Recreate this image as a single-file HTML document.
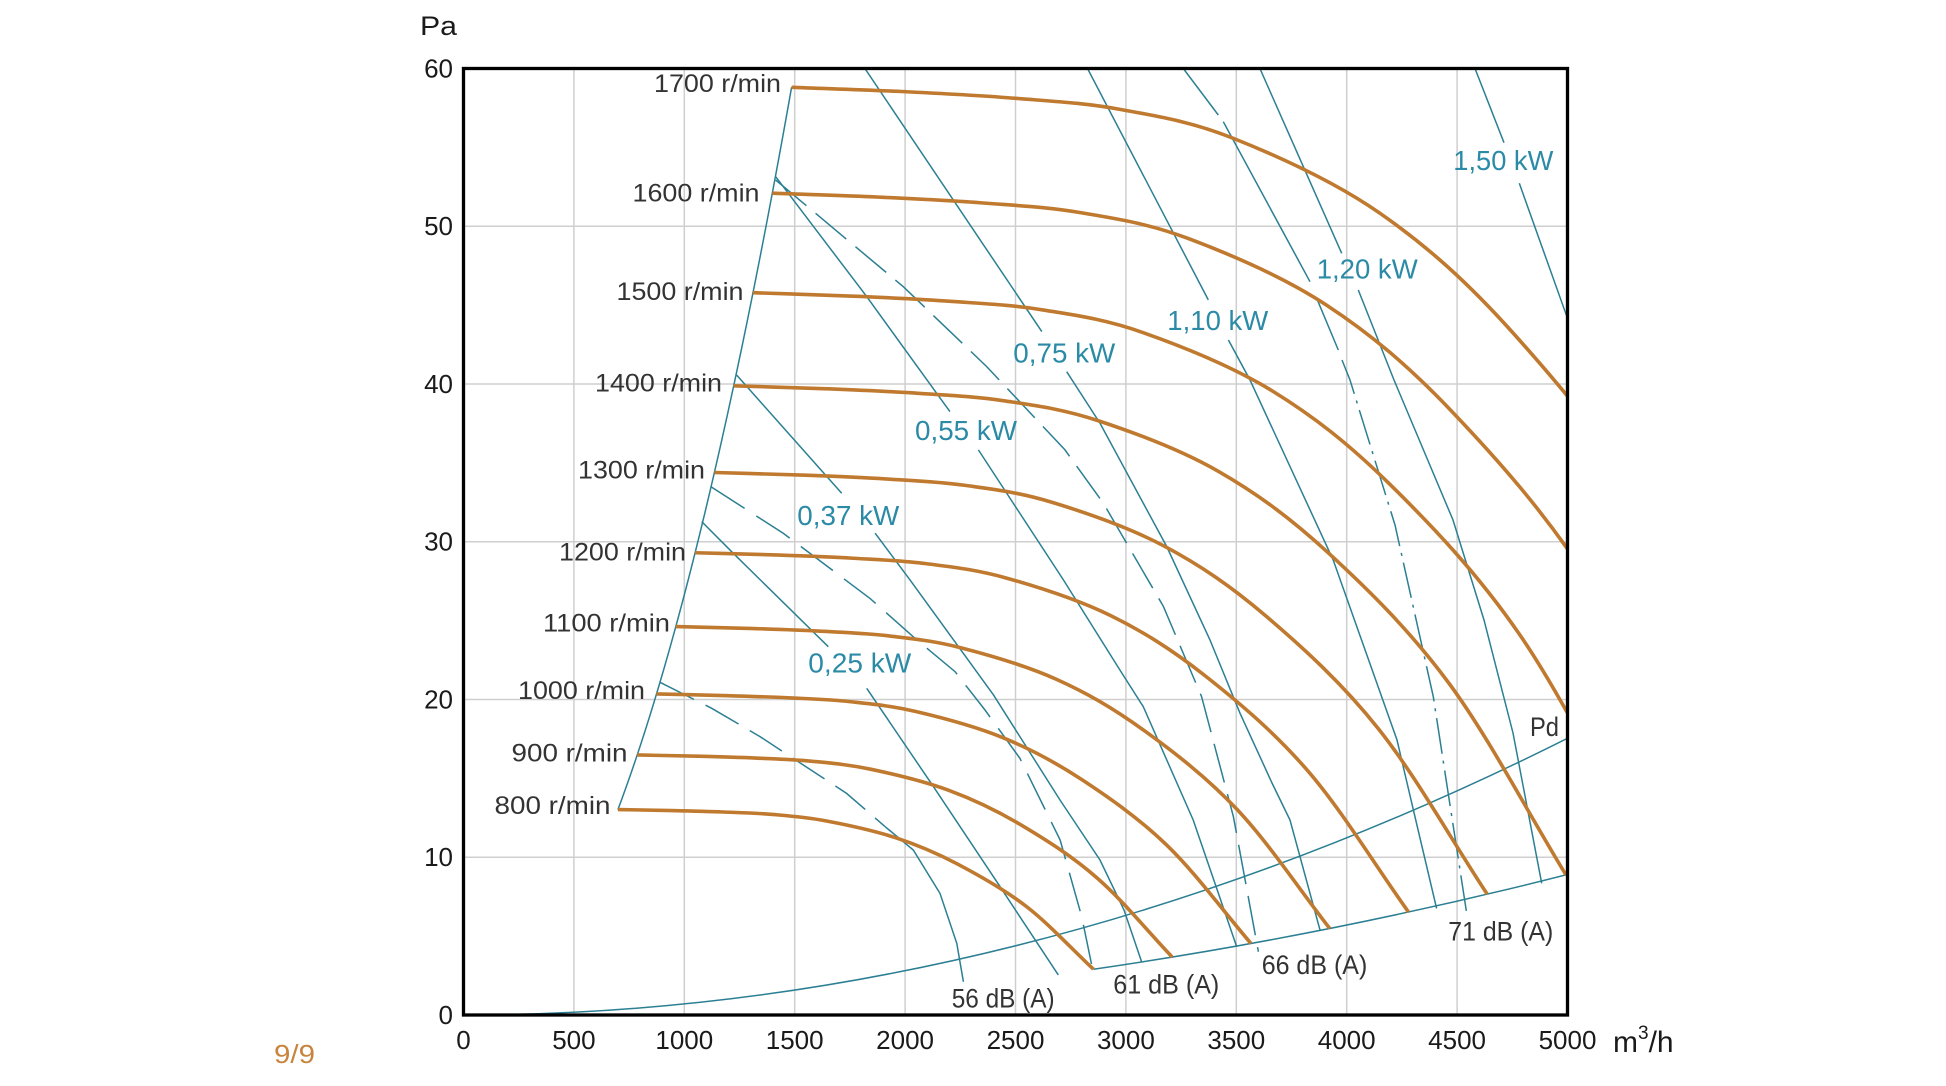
<!DOCTYPE html>
<html><head><meta charset="utf-8"><style>
html,body{margin:0;padding:0;background:#fff;}
svg{display:block;}
text{font-family:"Liberation Sans",Arial,sans-serif;}
</style></head><body>
<svg width="1946" height="1086" viewBox="0 0 1946 1086" xmlns="http://www.w3.org/2000/svg">
<rect width="1946" height="1086" fill="#fff"/>
<defs>
<clipPath id="c"><rect x="463.5" y="68.5" width="1104" height="946.5"/></clipPath>
</defs>
<!-- grid -->
<g stroke="#cfcfcf" stroke-width="1.5">
<line x1="573.9" y1="68.5" x2="573.9" y2="1015"/>
<line x1="684.3" y1="68.5" x2="684.3" y2="1015"/>
<line x1="794.7" y1="68.5" x2="794.7" y2="1015"/>
<line x1="905.1" y1="68.5" x2="905.1" y2="1015"/>
<line x1="1015.5" y1="68.5" x2="1015.5" y2="1015"/>
<line x1="1125.9" y1="68.5" x2="1125.9" y2="1015"/>
<line x1="1236.3" y1="68.5" x2="1236.3" y2="1015"/>
<line x1="1346.7" y1="68.5" x2="1346.7" y2="1015"/>
<line x1="1457.1" y1="68.5" x2="1457.1" y2="1015"/>
<line x1="463.5" y1="226.25" x2="1567.5" y2="226.25"/>
<line x1="463.5" y1="384" x2="1567.5" y2="384"/>
<line x1="463.5" y1="541.75" x2="1567.5" y2="541.75"/>
<line x1="463.5" y1="699.5" x2="1567.5" y2="699.5"/>
<line x1="463.5" y1="857.25" x2="1567.5" y2="857.25"/>
</g>
<g clip-path="url(#c)">
<g fill="none" stroke="#2b7f93" stroke-width="1.5">
<!-- boundary, end line, Pd -->
<path d="M617.9,809.6 Q704.75,578.4 791.6,87.3"/>
<path d="M1093.5,969.2 Q1330.5,934.8 1567.5,874.5"/>
<path d="M506.1,1014.6 Q1036.8,1004.3 1567.5,738.3"/>
<!-- power lines -->
<path d="M701.7,521.6 L733.3,553.3 L828.3,646.7"/>
<path d="M866.7,688.3 L933.4,786.6 L1000,886.6 L1058.3,974.9"/>
<path d="M736.6,375 L841.7,493.3"/>
<path d="M875.1,533.2 L910,579.9 L993.4,694.8 L1060,800 L1100,860 L1124,910 L1141.6,961.7"/>
<path d="M775.7,176.7 L866.7,296.6 L949.9,411.6"/>
<path d="M978.4,449.9 L1063.4,579.9 L1119.9,670 L1143.3,706.7 L1193.2,820 L1236.7,946.7"/>
<path d="M864.9,68.5 L1041.8,331.6"/>
<path d="M1066.7,371.7 L1100.1,423.4 L1166.7,546.5 L1210,640 L1240.1,713.4 L1272,783 L1290,820 L1320,930"/>
<path d="M1087.5,68.5 L1208.3,299.9"/>
<path d="M1228.4,340 L1250,380 L1333.2,560 L1397,740 L1413.4,810.1 L1436.6,908.4"/>
<path d="M1259.9,68.5 L1341.7,253.3"/>
<path d="M1358.3,290 L1394,380 L1453,520 L1484,620 L1513,733 L1541.7,883.3"/>
<path d="M1475,68.5 L1504,142.7"/>
<path d="M1519.3,183.3 L1567.5,318.3"/>
<!-- dB lines -->
<path d="M1183.3,68.5 L1218.3,115"/>
<path d="M1223.3,121.7 L1310,281.7"/>
<path d="M1316.7,298.3 L1338.3,350"/>
<path d="M1342,360 L1350,380 L1395,525 L1433.3,696.7 L1466.7,913.3" stroke-dasharray="36 7 3 7"/>
<path d="M775.7,180 L903.3,286.7 L986.7,366.6 L1065,449.9 L1103.4,503.3 L1163.4,606.4 L1201.6,696.7 L1233.4,816.7 L1258.4,951.7" stroke-dasharray="40 12"/>
<path d="M711,486.7 L783.4,533.4 L870,598.4 L915,638.3 L955,671.6 L985,710 L1019.9,758.3 L1060.1,839.9 L1081.7,916.6 L1091.7,965" stroke-dasharray="40 14"/>
<path d="M660,682.3 L711.7,708.3 L760,736.6 L846.6,793.4 L885,826.6" stroke-dasharray="38 13"/>
<path d="M885,826.6 L913.3,850 L940,893.4 L956.8,943.4 L963.4,981.7"/>
</g>
<!-- fan curves -->
<g fill="none" stroke="#c07a30" stroke-width="3.6">
<path vector-effect="non-scaling-stroke" transform="matrix(0.103906 0 0 -3.49342 463.5 1015)" d="M1486,58.81 C1657.3,58.717 1831,58.647 2000,58.53 C2169,58.413 2337.8,58.297 2500,58.11 C2662.2,57.923 2808.5,57.833 2973,57.41 C3137.5,56.987 3290.7,56.668 3487,55.57 C3683.3,54.472 3939.7,52.88 4151,50.82 C4362.3,48.76 4543.7,46.51 4755,43.21 C4966.3,39.91 5201,36.038 5419,31.02 C5637,26.002 5848.3,19.073 6063,13.10"/>
<path vector-effect="non-scaling-stroke" transform="matrix(0.116894 0 0 -4.42137 463.5 1015)" d="M1486,58.81 C1657.3,58.717 1831,58.647 2000,58.53 C2169,58.413 2337.8,58.297 2500,58.11 C2662.2,57.923 2808.5,57.833 2973,57.41 C3137.5,56.987 3290.7,56.668 3487,55.57 C3683.3,54.472 3939.7,52.88 4151,50.82 C4362.3,48.76 4543.7,46.51 4755,43.21 C4966.3,39.91 5201,36.038 5419,31.02 C5637,26.002 5848.3,19.073 6063,13.10"/>
<path vector-effect="non-scaling-stroke" transform="matrix(0.129882 0 0 -5.45848 463.5 1015)" d="M1486,58.81 C1657.3,58.717 1831,58.647 2000,58.53 C2169,58.413 2337.8,58.297 2500,58.11 C2662.2,57.923 2808.5,57.833 2973,57.41 C3137.5,56.987 3290.7,56.668 3487,55.57 C3683.3,54.472 3939.7,52.88 4151,50.82 C4362.3,48.76 4543.7,46.51 4755,43.21 C4966.3,39.91 5201,36.038 5419,31.02 C5637,26.002 5848.3,19.073 6063,13.10"/>
<path vector-effect="non-scaling-stroke" transform="matrix(0.142871 0 0 -6.60476 463.5 1015)" d="M1486,58.81 C1657.3,58.717 1831,58.647 2000,58.53 C2169,58.413 2337.8,58.297 2500,58.11 C2662.2,57.923 2808.5,57.833 2973,57.41 C3137.5,56.987 3290.7,56.668 3487,55.57 C3683.3,54.472 3939.7,52.88 4151,50.82 C4362.3,48.76 4543.7,46.51 4755,43.21 C4966.3,39.91 5201,36.038 5419,31.02 C5637,26.002 5848.3,19.073 6063,13.10"/>
<path vector-effect="non-scaling-stroke" transform="matrix(0.155859 0 0 -7.86021 463.5 1015)" d="M1486,58.81 C1657.3,58.717 1831,58.647 2000,58.53 C2169,58.413 2337.8,58.297 2500,58.11 C2662.2,57.923 2808.5,57.833 2973,57.41 C3137.5,56.987 3290.7,56.668 3487,55.57 C3683.3,54.472 3939.7,52.88 4151,50.82 C4362.3,48.76 4543.7,46.51 4755,43.21 C4966.3,39.91 5201,36.038 5419,31.02 C5637,26.002 5848.3,19.073 6063,13.10"/>
<path vector-effect="non-scaling-stroke" transform="matrix(0.168847 0 0 -9.22483 463.5 1015)" d="M1486,58.81 C1657.3,58.717 1831,58.647 2000,58.53 C2169,58.413 2337.8,58.297 2500,58.11 C2662.2,57.923 2808.5,57.833 2973,57.41 C3137.5,56.987 3290.7,56.668 3487,55.57 C3683.3,54.472 3939.7,52.88 4151,50.82 C4362.3,48.76 4543.7,46.51 4755,43.21 C4966.3,39.91 5201,36.038 5419,31.02 C5637,26.002 5848.3,19.073 6063,13.10"/>
<path vector-effect="non-scaling-stroke" transform="matrix(0.181835 0 0 -10.69862 463.5 1015)" d="M1486,58.81 C1657.3,58.717 1831,58.647 2000,58.53 C2169,58.413 2337.8,58.297 2500,58.11 C2662.2,57.923 2808.5,57.833 2973,57.41 C3137.5,56.987 3290.7,56.668 3487,55.57 C3683.3,54.472 3939.7,52.88 4151,50.82 C4362.3,48.76 4543.7,46.51 4755,43.21 C4966.3,39.91 5201,36.038 5419,31.02 C5637,26.002 5848.3,19.073 6063,13.10"/>
<path vector-effect="non-scaling-stroke" transform="matrix(0.194824 0 0 -12.28158 463.5 1015)" d="M1486,58.81 C1657.3,58.717 1831,58.647 2000,58.53 C2169,58.413 2337.8,58.297 2500,58.11 C2662.2,57.923 2808.5,57.833 2973,57.41 C3137.5,56.987 3290.7,56.668 3487,55.57 C3683.3,54.472 3939.7,52.88 4151,50.82 C4362.3,48.76 4543.7,46.51 4755,43.21 C4966.3,39.91 5201,36.038 5419,31.02 C5637,26.002 5848.3,19.073 6063,13.10"/>
<path vector-effect="non-scaling-stroke" transform="matrix(0.207812 0 0 -13.9737 463.5 1015)" d="M1486,58.81 C1657.3,58.717 1831,58.647 2000,58.53 C2169,58.413 2337.8,58.297 2500,58.11 C2662.2,57.923 2808.5,57.833 2973,57.41 C3137.5,56.987 3290.7,56.668 3487,55.57 C3683.3,54.472 3939.7,52.88 4151,50.82 C4362.3,48.76 4543.7,46.51 4755,43.21 C4966.3,39.91 5201,36.038 5419,31.02 C5637,26.002 5848.3,19.073 6063,13.10"/>
<path vector-effect="non-scaling-stroke" transform="matrix(0.2208 0 0 -15.775 463.5 1015)" d="M1486,58.81 C1657.3,58.717 1831,58.647 2000,58.53 C2169,58.413 2337.8,58.297 2500,58.11 C2662.2,57.923 2808.5,57.833 2973,57.41 C3137.5,56.987 3290.7,56.668 3487,55.57 C3683.3,54.472 3939.7,52.88 4151,50.82 C4362.3,48.76 4543.7,46.51 4755,43.21 C4966.3,39.91 5201,36.038 5419,31.02 C5637,26.002 5848.3,19.073 6063,13.10"/>
</g>
</g>
<!-- frame -->
<rect x="463.5" y="68.5" width="1104" height="946.5" fill="none" stroke="#000" stroke-width="3.3"/>
<!-- y tick labels -->
<g font-size="26" fill="#1a1a1a" text-anchor="end">
<text x="453" y="77.3">60</text>
<text x="453" y="235">50</text>
<text x="453" y="392.8">40</text>
<text x="453" y="550.5">30</text>
<text x="453" y="708.3">20</text>
<text x="453" y="866">10</text>
<text x="453" y="1023.8">0</text>
</g>
<text x="420" y="35" font-size="27" fill="#1a1a1a" textLength="37" lengthAdjust="spacingAndGlyphs">Pa</text>
<!-- x tick labels -->
<g font-size="26" fill="#1a1a1a" text-anchor="middle">
<text x="463.5" y="1049">0</text>
<text x="573.9" y="1049">500</text>
<text x="684.3" y="1049">1000</text>
<text x="794.7" y="1049">1500</text>
<text x="905.1" y="1049">2000</text>
<text x="1015.5" y="1049">2500</text>
<text x="1125.9" y="1049">3000</text>
<text x="1236.3" y="1049">3500</text>
<text x="1346.7" y="1049">4000</text>
<text x="1457.1" y="1049">4500</text>
<text x="1567.5" y="1049">5000</text>
</g>
<text x="1613" y="1052" font-size="30" fill="#1a1a1a">m<tspan font-size="19" dy="-13">3</tspan><tspan dy="13">/h</tspan></text>
<text x="274" y="1063" font-size="26" fill="#c8843c" textLength="41" lengthAdjust="spacingAndGlyphs">9/9</text>
<!-- rpm labels -->
<g font-size="25" fill="#333" text-anchor="end">
<text x="781" y="92" textLength="127" lengthAdjust="spacingAndGlyphs">1700 r/min</text>
<text x="759.5" y="201.5" textLength="127" lengthAdjust="spacingAndGlyphs">1600 r/min</text>
<text x="743.5" y="300" textLength="127" lengthAdjust="spacingAndGlyphs">1500 r/min</text>
<text x="722" y="391.5" textLength="127" lengthAdjust="spacingAndGlyphs">1400 r/min</text>
<text x="705" y="478.5" textLength="127" lengthAdjust="spacingAndGlyphs">1300 r/min</text>
<text x="686" y="560.5" textLength="127" lengthAdjust="spacingAndGlyphs">1200 r/min</text>
<text x="670" y="631.5" textLength="127" lengthAdjust="spacingAndGlyphs">1100 r/min</text>
<text x="645" y="699" textLength="127" lengthAdjust="spacingAndGlyphs">1000 r/min</text>
<text x="627.5" y="761.5" textLength="116" lengthAdjust="spacingAndGlyphs">900 r/min</text>
<text x="610.5" y="814" textLength="116" lengthAdjust="spacingAndGlyphs">800 r/min</text>
</g>
<!-- kW labels -->
<g font-size="28" fill="#2b8aa6">
<text x="1013.3" y="362.7" textLength="102" lengthAdjust="spacingAndGlyphs">0,75 kW</text>
<text x="915" y="440" textLength="102" lengthAdjust="spacingAndGlyphs">0,55 kW</text>
<text x="797.3" y="525" textLength="102" lengthAdjust="spacingAndGlyphs">0,37 kW</text>
<text x="808.3" y="672.7" textLength="103" lengthAdjust="spacingAndGlyphs">0,25 kW</text>
<text x="1167.3" y="330" textLength="101" lengthAdjust="spacingAndGlyphs">1,10 kW</text>
<text x="1316.7" y="278.3" textLength="101" lengthAdjust="spacingAndGlyphs">1,20 kW</text>
<text x="1453.3" y="170" textLength="100" lengthAdjust="spacingAndGlyphs">1,50 kW</text>
</g>
<!-- dB labels -->
<g font-size="27" fill="#333">
<text x="951.7" y="1007.3" textLength="103" lengthAdjust="spacingAndGlyphs">56 dB (A)</text>
<text x="1113.3" y="993.3" textLength="106" lengthAdjust="spacingAndGlyphs">61 dB (A)</text>
<text x="1261.7" y="974" textLength="105.6" lengthAdjust="spacingAndGlyphs">66 dB (A)</text>
<text x="1448.3" y="940.7" textLength="105" lengthAdjust="spacingAndGlyphs">71 dB (A)</text>
<text x="1530" y="736" textLength="29" lengthAdjust="spacingAndGlyphs">Pd</text>
</g>
</svg>
</body></html>
